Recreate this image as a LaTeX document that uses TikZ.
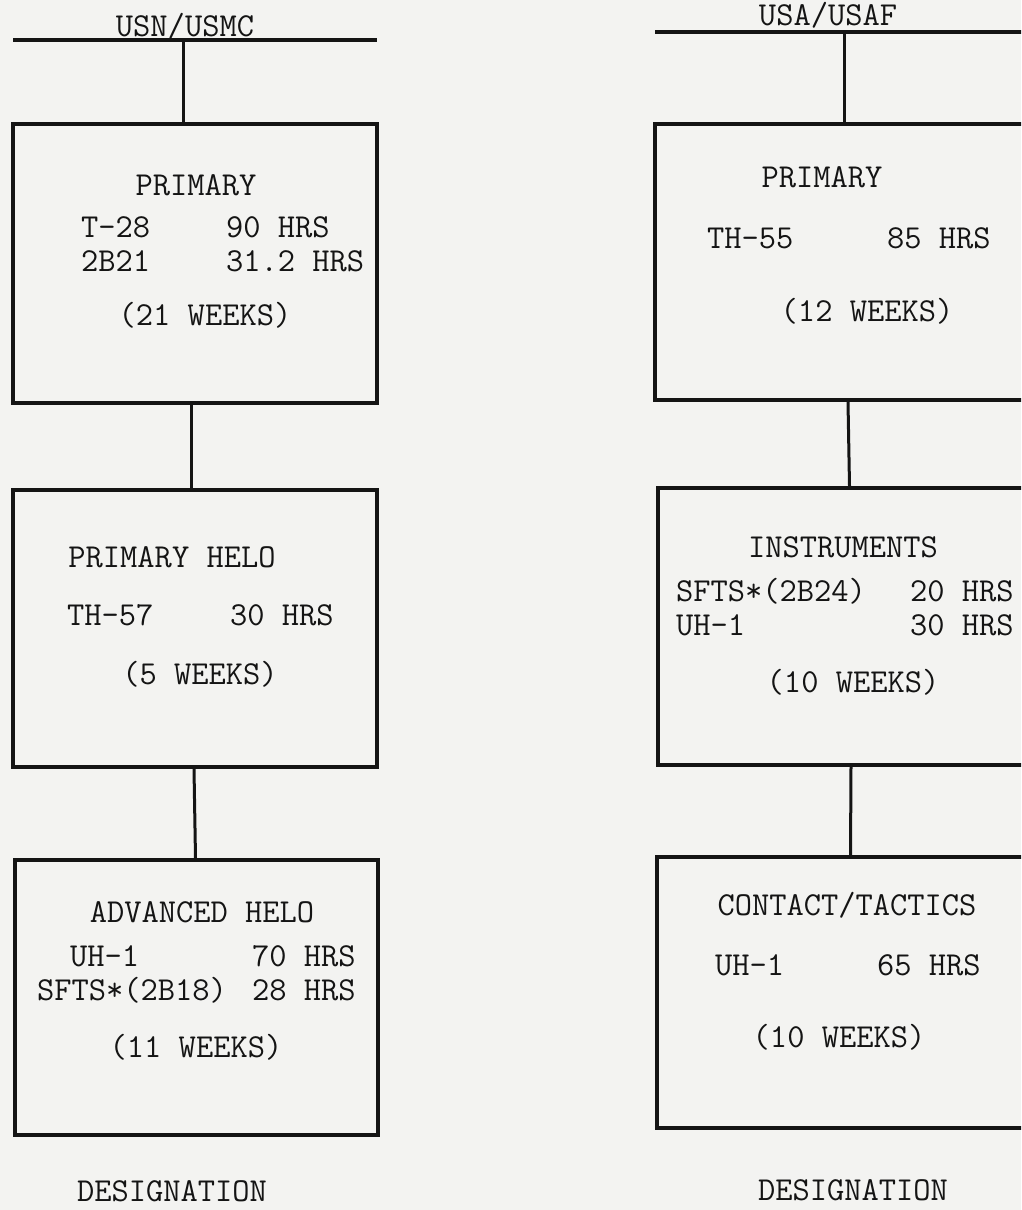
\documentclass[tikz,border=0pt]{standalone}
\definecolor{paper}{RGB}{243,243,241}
\definecolor{ink}{RGB}{20,20,20}
\tikzset{
  stage/.style={draw=ink,line width=4pt,rectangle,inner sep=0pt},
  txt/.style={font=\ttfamily\fontsize{33.5}{40}\selectfont,text=ink,inner sep=0pt},
  rows/.style={txt,font=\ttfamily\fontsize{33.5}{34}\selectfont,anchor=base west},
  link/.style={draw=ink,line width=3pt},
  bar/.style={draw=ink,line width=3.5pt}
}
\begin{document}
\begin{tikzpicture}[x=1pt,y=-1pt]
\useasboundingbox[fill=paper] (0,0) rectangle (1021,1210);
\clip (0,0) rectangle (1021,1210);
% USN/USMC column
\coordinate (navybarW) at (13,40);
\coordinate (navybarE) at (377,40);
\coordinate (navytee) at (183,40);
\draw[bar] (navybarW) -- (navybarE);
\node[txt,anchor=base] (navyhead) at (185,36) {USN/USMC};
\node[stage,minimum width=364pt,minimum height=279pt] (navyprim) at (195,263.5) {};
\node[stage,minimum width=364pt,minimum height=277pt] (navyhelo) at (195,628.5) {};
\node[stage,minimum width=363pt,minimum height=275pt] (navyadv) at (196.5,997.5) {};
\draw[link] (navytee) -- (navytee |- navyprim.north);
\draw[link] ([xshift=-4pt]navyprim.south) -- ([xshift=-4pt]navyhelo.north);
\draw[link] ([xshift=-1pt]navyhelo.south) -- ([xshift=-1pt]navyadv.north);
% primary
\node[txt,anchor=base] (navyprimname) at (196,195) {PRIMARY};
\node[rows] (navyprimhrs) at (81,237)
  {\begin{tabular}[t]{@{}p{145pt}@{}l@{}}T-28 & 90 HRS\\ 2B21 & 31.2 HRS\end{tabular}};
\node[txt,anchor=base] (navyprimwk) at (205,325) {(21 WEEKS)};
% primary helo
\node[txt,anchor=base] (navyheloname) at (172,567) {PRIMARY HELO};
\node[txt,anchor=base west] (navyth57) at (67,625) {TH-57};
\node[txt,anchor=base west] (navyth57hrs) at (230,625) {30 HRS};
\node[txt,anchor=base] (navyhelowk) at (200,684) {(5 WEEKS)};
% advanced helo
\node[txt,anchor=base] (navyadvname) at (202,922) {ADVANCED HELO};
\node[rows] (navyadvhrs) at (37,966)
  {\begin{tabular}[t]{@{}p{215pt}@{}l@{}}\hspace*{33pt}UH-1 & 70 HRS\\ SFTS*(2B18) & 28 HRS\end{tabular}};
\node[txt,anchor=base] (navyadvwk) at (196,1057) {(11 WEEKS)};
\node[txt,anchor=base] (navydesig) at (172,1201) {DESIGNATION};
% USA/USAF column
\coordinate (armybarW) at (655,32);
\coordinate (armybarE) at (1040,32);
\coordinate (armytee) at (844,32);
\draw[bar] (armybarW) -- (armybarE);
\node[txt,anchor=base] (armyhead) at (828,25) {USA/USAF};
\node[stage,minimum width=390pt,minimum height=276pt] (armyprim) at (850,262) {};
\node[stage,minimum width=387pt,minimum height=277pt] (armyinst) at (851.5,626.5) {};
\node[stage,minimum width=388pt,minimum height=271pt] (armytac) at (851,992.5) {};
\draw[link] (armytee) -- (armytee |- armyprim.north);
\draw[link] ([xshift=-2pt]armyprim.south) -- ([xshift=-2pt]armyinst.north);
\draw[link] ([xshift=-0.5pt]armyinst.south) -- ([xshift=-0.5pt]armytac.north);
% primary
\node[txt,anchor=base] (armyprimname) at (822,187) {PRIMARY};
\node[txt,anchor=base west] (armyth55) at (707,248) {TH-55};
\node[txt,anchor=base west] (armyth55hrs) at (887,248) {85 HRS};
\node[txt,anchor=base] (armyprimwk) at (867,321) {(12 WEEKS)};
% instruments
\node[txt,anchor=base] (armyinstname) at (843,557) {INSTRUMENTS};
\node[rows] (armyinsthrs) at (676,601)
  {\begin{tabular}[t]{@{}p{234pt}@{}l@{}}SFTS*(2B24) & 20 HRS\\ UH-1 & 30 HRS\end{tabular}};
\node[txt,anchor=base] (armyinstwk) at (853,692) {(10 WEEKS)};
% contact/tactics
\node[txt,anchor=base] (armytacname) at (847,915) {CONTACT/TACTICS};
\node[txt,anchor=base west] (armytacuh1) at (715,975) {UH-1};
\node[txt,anchor=base west] (armytacuh1hrs) at (877,975) {65 HRS};
\node[txt,anchor=base] (armytacwk) at (839,1047) {(10 WEEKS)};
\node[txt,anchor=base] (armydesig) at (853,1200) {DESIGNATION};
\end{tikzpicture}
\end{document}
